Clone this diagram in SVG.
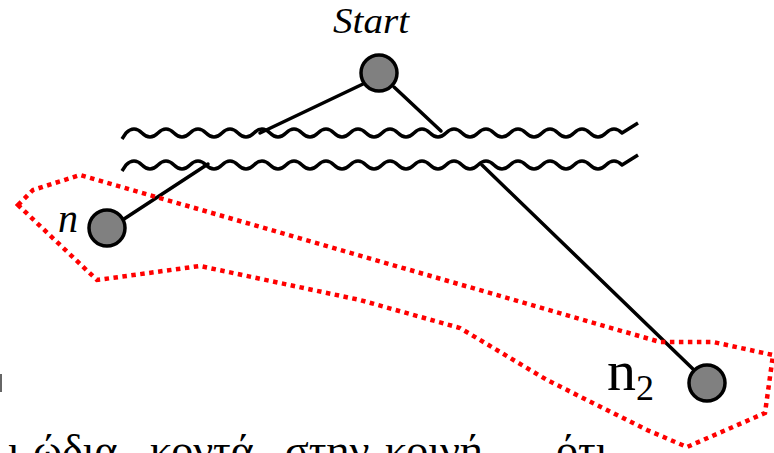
<svg xmlns="http://www.w3.org/2000/svg" width="774" height="453" viewBox="0 0 774 453">
<style>
.wave{fill:none;stroke:#000;stroke-width:3.5;stroke-linejoin:round}
.edge{fill:none;stroke:#000;stroke-width:3.5;stroke-linecap:round}
.node{fill:#808080;stroke:#000;stroke-width:3.5}
.region{fill:none;stroke:#ff0000;stroke-width:4.5;stroke-dasharray:4.5 4.5}
text{font-family:'Liberation Serif','Times New Roman','DejaVu Serif',serif;fill:#000}
.it{font-style:italic}
</style>
<rect width="774" height="453" fill="#fff"/>
<g id="waves">
<path class="wave" d="M122,139 L126,133 q8,-8 16,0 t16,0 t16,0 t16,0 t16,0 t16,0 t16,0 t16,0 t16,0 t16,0 t16,0 t16,0 t16,0 t16,0 t16,0 t16,0 t16,0 t16,0 t16,0 t16,0 t16,0 t16,0 t16,0 t16,0 t16,0 t16,0 t16,0 t16,0 t16,0 t16,0 t16,0 L638,123"/>
<path class="wave" d="M122,171 L126,165 q8,-8 16,0 t16,0 t16,0 t16,0 t16,0 t16,0 t16,0 t16,0 t16,0 t16,0 t16,0 t16,0 t16,0 t16,0 t16,0 t16,0 t16,0 t16,0 t16,0 t16,0 t16,0 t16,0 t16,0 t16,0 t16,0 t16,0 t16,0 t16,0 t16,0 t16,0 t16,0 L638,155"/>
</g>
<g id="connectors">
<line class="edge" x1="363" y1="84" x2="260" y2="133"/>
<line class="edge" x1="208" y1="164" x2="124" y2="219"/>
<line class="edge" x1="394" y1="87" x2="441" y2="131"/>
<line class="edge" x1="482" y1="165" x2="694" y2="370"/>
</g>
<g id="region">
<polygon class="region" points="18,205 33,190 80,175 660,342 713,342 773,355 765,413 687,447 647,430 547,380 460,328 360,300 200,266 97,280"/>
</g>
<g id="node-start">
<circle class="node" cx="379" cy="73" r="18"/>
<text class="it" x="333" y="33" font-size="36" textLength="76" lengthAdjust="spacingAndGlyphs">Start</text>
</g>
<g id="node-n">
<circle class="node" cx="107" cy="228" r="18"/>
<text class="it" x="58" y="232" font-size="40">n</text>
</g>
<g id="node-n2">
<circle class="node" cx="707" cy="383" r="18"/>
<text x="607" y="390" font-size="58">n<tspan font-size="36" dy="10">2</tspan></text>
</g>
<rect x="0" y="374" width="2" height="18" fill="#666"/>
<text y="465" font-size="44"><tspan x="8">ι</tspan><tspan x="33">ώδια</tspan><tspan x="150">κοντά</tspan><tspan x="285">στην</tspan><tspan x="385">κοινή</tspan><tspan x="556">ότι</tspan></text>
</svg>
